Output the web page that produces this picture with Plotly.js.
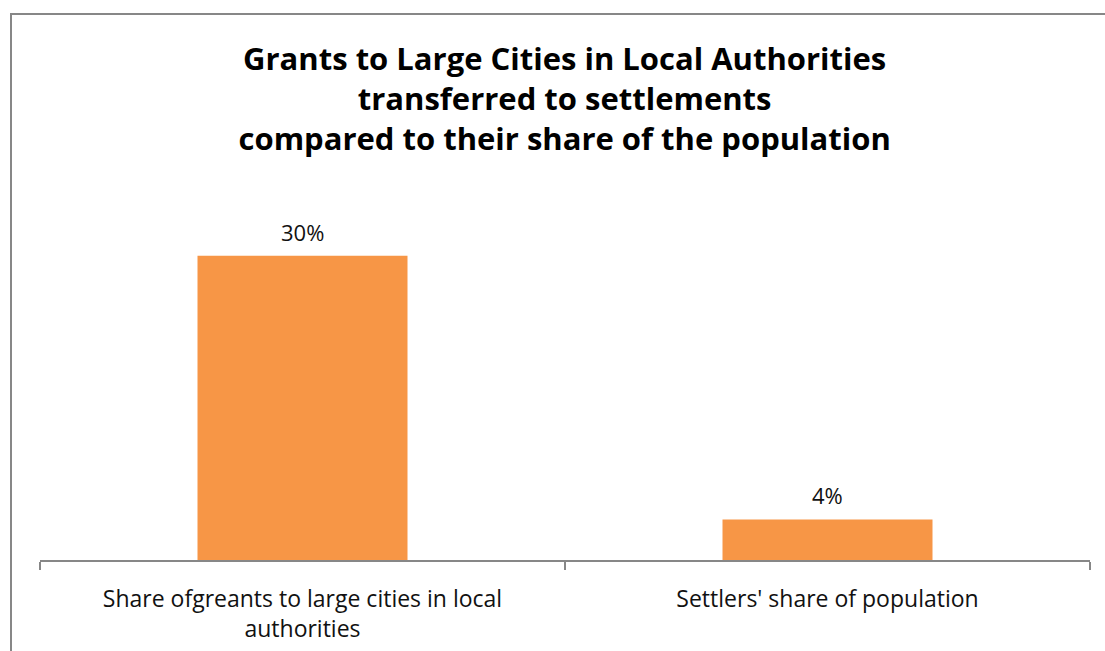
<!DOCTYPE html>
<html>
<head>
<meta charset="utf-8">
<script src="https://cdn.plot.ly/plotly-3.0.1.min.js"></script>
<style>
  html, body { margin: 0; padding: 0; background: #ffffff; }
  #wrap { position: relative; width: 1105px; height: 651px; overflow: hidden; }
  #chart { width: 1105px; height: 651px; }
  #frame { position: absolute; left: 10px; top: 13px; right: -5px; bottom: -5px;
           border-left: 2px solid #878787; border-top: 2px solid #878787; pointer-events: none; }
</style>
</head>
<body>
<div id="wrap">
  <div id="chart"></div>
  <div id="frame"></div>
</div>
<script>
const categories = [
  "Share ofgreants to large cities in local<br>authorities",
  "Settlers' share of population"
];
const values = [0.30, 0.04];
const valueLabels = ["30%", "4%"];
const titleText = "Grants to Large Cities in Local Authorities<br>transferred to settlements<br>compared to their share of the population";

const FONT = "'Open Sans', Lato, sans-serif";

const trace = {
  type: "bar",
  x: categories,
  y: values,
  marker: { color: "#F79646", line: { width: 0 } },
  hoverinfo: "skip"
};

const annotations = categories.map((c, i) => ({
  x: c, y: values[i], xref: "x", yref: "y",
  text: valueLabels[i], showarrow: false,
  yanchor: "bottom", yshift: 7,
  font: { family: FONT, size: 22, color: "#111111" }
}));

const layout = {
  width: 1105, height: 651,
  margin: { l: 40, r: 15, t: 205, b: 91 },
  paper_bgcolor: "#ffffff",
  plot_bgcolor: "#ffffff",
  bargap: 0.6,
  showlegend: false,
  title: {
    text: titleText,
    x: 0.511, xanchor: "center",
    y: 0.893, yanchor: "top", yref: "container",
    font: { family: FONT, size: 31, color: "#000000", weight: "bold" }
  },
  xaxis: {
    showline: true, linecolor: "#878787", linewidth: 2,
    ticks: "outside", ticklen: 8, tickcolor: "#878787", tickwidth: 1.5,
    tickson: "boundaries",
    ticklabelstandoff: 17,
    showgrid: false, zeroline: false,
    tickfont: { family: FONT, size: 23, color: "#111111" }
  },
  yaxis: {
    range: [0, 0.35], visible: false, showgrid: false, zeroline: false
  },
  annotations: annotations
};

Plotly.newPlot("chart", [trace], layout, { displayModeBar: false, staticPlot: true });
</script>
</body>
</html>
